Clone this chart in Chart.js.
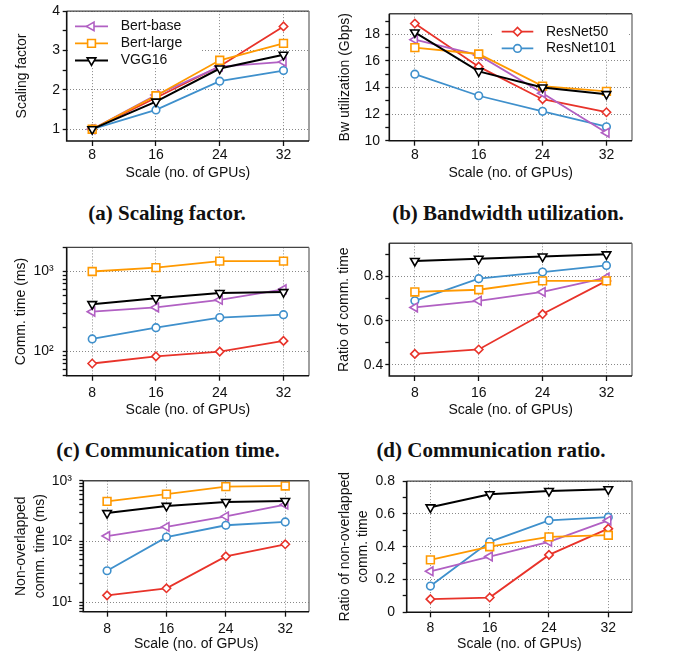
<!DOCTYPE html>
<html lang="en">
<head>
<meta charset="UTF-8">
<title>Scaling results</title>
<script src="https://cdn.jsdelivr.net/npm/chart.js"></script>
<style>
  body { margin: 0; background: #fff; width: 678px; height: 661px; position: relative; overflow: hidden; }
  canvas { position: absolute; }
  .caption {
    position: absolute;
    font-family: 'Liberation Serif', serif;
    font-weight: bold;
    font-size: 21px;
    color: #111;
    transform: translate(-50%, -50%);
    white-space: nowrap;
  }
</style>
</head>
<body>

<canvas id="chartA" width="330" height="192" style="left:0;top:0"></canvas>
<canvas id="chartB" width="348" height="192" style="left:330px;top:0"></canvas>
<canvas id="chartC" width="330" height="192" style="left:0;top:230px"></canvas>
<canvas id="chartD" width="348" height="192" style="left:330px;top:230px"></canvas>
<canvas id="chartE" width="330" height="196" style="left:0;top:465px"></canvas>
<canvas id="chartF" width="348" height="196" style="left:330px;top:465px"></canvas>

<div class="caption" style="left:167px;top:213px">(a) Scaling factor.</div>
<div class="caption" style="left:508px;top:213px">(b) Bandwidth utilization.</div>
<div class="caption" style="left:168px;top:450px">(c) Communication time.</div>
<div class="caption" style="left:491px;top:450px">(d) Communication ratio.</div>

<script>
// x values (number of GPUs)
const gpus = [8, 16, 24, 32];
// series, one row per model in this order
const models = ['VGG16', 'Bert-large', 'Bert-base', 'ResNet101', 'ResNet50'];

const scalingFactor = [
    [1, 1.70, 2.54, 2.89],
    [1, 1.85, 2.75, 3.18],
    [1, 1.87, 2.59, 2.71],
    [1, 1.49, 2.22, 2.49],
    [1, 1.80, 2.60, 3.61]
];
const bwUtilization = [
    [18.14, 15.21, 14.0, 13.5],
    [17.0, 16.52, 14.1, 13.71],
    [17.6, 16.43, 13.57, 10.6],
    [15.0, 13.38, 12.21, 11.05],
    [18.81, 15.57, 13.12, 12.14]
];
const commTime = [
    [391, 463, 538, 553],
    [1000, 1120, 1350, 1350],
    [315, 356, 442, 600],
    [144, 199, 266, 289],
    [71, 87, 100, 136]
];
const commRatio = [
    [0.87, 0.88, 0.89, 0.90],
    [0.73, 0.74, 0.78, 0.78],
    [0.66, 0.69, 0.73, 0.795],
    [0.69, 0.79, 0.82, 0.85],
    [0.45, 0.47, 0.63, 0.78]
];
const nonOverlapTime = [
    [293, 385, 447, 463],
    [458, 601, 800, 820],
    [123, 174, 259, 404],
    [33, 118, 185, 210],
    [13, 17, 57, 90]
];
const nonOverlapRatio = [
    [0.64, 0.72, 0.74, 0.75],
    [0.32, 0.40, 0.46, 0.47],
    [0.25, 0.34, 0.43, 0.56],
    [0.16, 0.43, 0.56, 0.58],
    [0.08, 0.09, 0.35, 0.51]
];

// labelled y ticks
const scaleTicks = [1, 2, 3, 4];
const bwTicks = [10, 12, 14, 16, 18];
const commTimeTicks = [100, 1000];
const commRatioTicks = [0.4, 0.6, 0.8];
const nonOverlapTimeTicks = [10, 100, 1000];
const nonOverlapRatioTicks = [0, 0.2, 0.4, 0.6, 0.8];

const colors = ['#000000', '#ff9900', '#b160c3', '#3f90cc', '#e8332a'];
const markers = ['triangle', 'rect', 'triangle', 'circle', 'rectRot'];
const rotations = [180, 0, -90, 0, 0];
const radii = [5, 5.5, 5, 3.8, 4.2];

const FONT = { family: "'Liberation Sans', Arial, sans-serif", size: 14 };
const sup = { 1: '\u00b9', 2: '\u00b2', 3: '\u00b3' };

function linearTicks(major, min, max) {
    const step = major[1] - major[0];
    const out = major.map(v => ({ value: v, lab: true }));
    for (let v = major[0] - step / 2; v <= max + 1e-9; v += step) {
        const r = Math.round(v * 1e6) / 1e6;
        if (r >= min) out.push({ value: r });
    }
    return out.sort((a, b) => a.value - b.value);
}

function logTicks(major, min, max) {
    const out = major.map(v => ({ value: v, lab: true }));
    for (let e = Math.floor(Math.log10(min)); e <= Math.log10(max); e++) {
        for (let k = 2; k <= 9; k++) {
            const v = k * Math.pow(10, e);
            if (v >= min && v <= max) out.push({ value: v });
        }
    }
    return out.sort((a, b) => a.value - b.value);
}

// box around the plot: dark left/bottom, lighter top/right
const framePlugin = {
    id: 'frame',
    afterDraw(chart) {
        const { ctx, chartArea: a } = chart;
        ctx.save();
        ctx.lineWidth = 1.4;
        ctx.strokeStyle = '#444';
        ctx.beginPath(); ctx.moveTo(a.left, a.top); ctx.lineTo(a.right, a.top); ctx.stroke();
        ctx.strokeStyle = '#777';
        ctx.beginPath(); ctx.moveTo(a.right, a.top); ctx.lineTo(a.right, a.bottom); ctx.stroke();
        ctx.strokeStyle = '#111';
        ctx.lineWidth = 1.6;
        ctx.beginPath(); ctx.moveTo(a.left, a.top); ctx.lineTo(a.left, a.bottom); ctx.lineTo(a.right, a.bottom); ctx.stroke();
        ctx.restore();
    }
};

// legend drawn inside the plot area
const insetLegend = {
    id: 'insetLegend',
    afterDatasetsDraw(chart, args, opts) {
        if (!opts.names) return;
        const { ctx, chartArea: a } = chart;
        ctx.save();
        ctx.fillStyle = '#fff';
        ctx.fillRect(a.left + opts.box[0], a.top + opts.box[1], opts.box[2], opts.box[3]);
        opts.names.forEach((name, k) => {
            const ds = chart.data.datasets.find(d => d.label === name);
            const x0 = a.left + opts.x;
            const y = a.top + opts.y + k * opts.rowH;
            ctx.strokeStyle = ds.borderColor;
            ctx.lineWidth = ds.borderWidth;
            ctx.beginPath(); ctx.moveTo(x0, y); ctx.lineTo(x0 + opts.lineW, y); ctx.stroke();
            ctx.fillStyle = '#fff';
            ctx.lineWidth = ds.pointBorderWidth;
            Chart.helpers.drawPoint(ctx, {
                pointStyle: ds.pointStyle, rotation: ds.pointRotation,
                radius: ds.pointRadius, borderWidth: ds.pointBorderWidth
            }, x0 + opts.lineW / 2, y);
            ctx.fillStyle = '#111';
            ctx.font = "14px 'Liberation Sans', Arial, sans-serif";
            ctx.textBaseline = 'middle';
            ctx.fillText(name, x0 + opts.lineW + opts.gap, y);
        });
        ctx.restore();
    }
};

function makeChart(id, rows, p) {
    const datasets = models.map((name, i) => ({
        label: name,
        data: gpus.map((g, j) => ({ x: g, y: rows[i][j] })),
        borderColor: colors[i],
        backgroundColor: '#fff',
        borderWidth: i === 0 ? 2 : 1.8,
        pointStyle: markers[i],
        pointRotation: rotations[i],
        pointRadius: radii[i],
        pointBorderWidth: 1.6,
        pointBackgroundColor: '#fff',
        pointBorderColor: colors[i]
    }));
    const yTicks = p.log ? logTicks(p.ticks, p.min, p.max) : linearTicks(p.ticks, p.min, p.max);

    return new Chart(document.getElementById(id), {
        type: 'line',
        data: { datasets },
        plugins: [framePlugin, insetLegend],
        options: {
            responsive: false,
            animation: false,
            devicePixelRatio: 1,
            layout: { padding: { top: p.top, right: p.right, left: 0, bottom: 0 } },
            plugins: {
                legend: { display: false },
                tooltip: { enabled: false },
                insetLegend: p.legend || {}
            },
            scales: {
                x: {
                    type: 'linear',
                    min: 4.8, max: 35.2,
                    afterBuildTicks: s => { s.ticks = gpus.map(v => ({ value: v })); },
                    afterFit: s => { s.height = p.xH; },
                    ticks: { autoSkip: false, maxRotation: 0, padding: p.xPad, font: FONT, color: '#111',
                        callback: v => String(v) },
                    grid: { color: '#888', lineWidth: 1, tickColor: '#111', tickLength: 5, tickWidth: 1.3 },
                    border: { display: false, dash: [1, 2] },
                    title: { display: true, text: 'Scale (no. of GPUs)', font: FONT, color: '#111',
                        padding: { top: 0, bottom: p.xTitlePad } }
                },
                y: {
                    type: p.log ? 'logarithmic' : 'linear',
                    min: p.min, max: p.max,
                    afterBuildTicks: s => { s.ticks = yTicks.map(t => Object.assign({}, t)); },
                    afterFit: s => { s.width = p.yW; },
                    ticks: { autoSkip: false, padding: p.yPad, font: FONT, color: '#111',
                        callback: function (v, i, ts) {
                            if (!ts[i].lab) return '';
                            return p.log ? '10' + sup[Math.round(Math.log10(v))] : String(v);
                        } },
                    grid: {
                        color: c => (c.tick && c.tick.lab) ? '#888' : 'rgba(0,0,0,0)',
                        lineWidth: 1, tickColor: '#111', tickLength: 4, tickWidth: 1.3
                    },
                    border: { display: false, dash: [1, 2] },
                    title: { display: true, text: p.yTitle,
                        font: Object.assign({}, FONT, { lineHeight: p.yLH || 1.2 }), color: '#111',
                        padding: { top: p.yTitlePad, bottom: 0 } }
                }
            }
        }
    });
}

makeChart('chartA', scalingFactor, {
    min: 0.7, max: 4, ticks: scaleTicks, yTitle: 'Scaling factor',
    top: 7, right: 21, yW: 66.7, xH: 51, xPad: 1, xTitlePad: 10.6, yPad: 2.7, yTitlePad: 13.3,
    legend: { names: ['Bert-base', 'Bert-large', 'VGG16'], x: 8.3, y: 15.3, rowH: 17, lineW: 33, gap: 12.7,
        box: [3.3, 1, 132, 56] }
});
makeChart('chartB', bwUtilization, {
    min: 10, max: 19.55, ticks: bwTicks, yTitle: 'Bw utilization (Gbps)',
    top: 7, right: 46, yW: 59.3, xH: 51.3, xPad: 1, xTitlePad: 10.3, yPad: 5.3, yTitlePad: 6.3,
    legend: { names: ['ResNet50', 'ResNet101'], x: 112.4, y: 18, rowH: 16.7, lineW: 31.6, gap: 12.7,
        box: [103.7, 1, 136, 45] }
});
makeChart('chartC', commTime, {
    log: true, min: 50, max: 2000, ticks: commTimeTicks, yTitle: 'Comm. time (ms)',
    top: 13.3, right: 21, yW: 66.7, xH: 46.3, xPad: 4, xTitlePad: 3.6, yPad: 9, yTitlePad: 12.9
});
makeChart('chartD', commRatio, {
    min: 0.35, max: 0.95, ticks: commRatioTicks, yTitle: 'Ratio of comm. time',
    top: 13.3, right: 46, yW: 59.3, xH: 46, xPad: 3.3, xTitlePad: 3.6, yPad: 2, yTitlePad: 5.6
});
makeChart('chartE', nonOverlapTime, {
    log: true, min: 7, max: 1000, ticks: nonOverlapTimeTicks, yTitle: ['Non-overlapped', 'comm. time (ms)'],
    top: 13.3, right: 21, yW: 83.3, xH: 49.3, xPad: 3.9, xTitlePad: 8.6, yPad: 7.3, yTitlePad: 11.2, yLH: 1.4
});
makeChart('chartF', nonOverlapRatio, {
    min: 0, max: 0.8, ticks: nonOverlapRatioTicks, yTitle: ['Ratio of non-overlapped', 'comm. time'],
    top: 13.3, right: 46, yW: 76.7, xH: 48.7, xPad: 2.5, xTitlePad: 8.6, yPad: 7.7, yTitlePad: 6.3, yLH: 1.3
});
</script>

</body>
</html>
